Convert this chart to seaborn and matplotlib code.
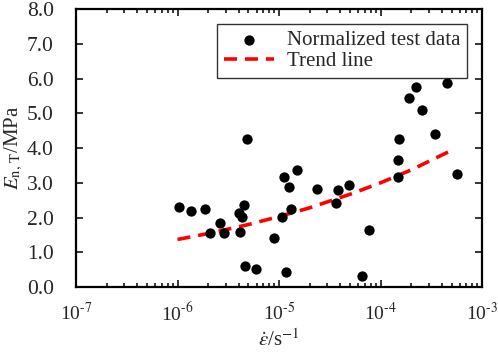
import numpy as np
import pandas as pd
import seaborn as sns
import matplotlib
matplotlib.use('Agg')
import matplotlib.pyplot as plt
from matplotlib.ticker import LogLocator, FuncFormatter, MultipleLocator, FormatStrFormatter

# test data
strain_rate = [1.03e-6, 1.37e-6, 1.85e-6, 2.08e-6, 2.6e-6, 2.86e-6, 4.0e-6, 4.3e-6,
               4.5e-6, 4.1e-6, 4.6e-6, 5.9e-6, 9.0e-6, 1.07e-5, 1.11e-5, 1.18e-5,
               1.26e-5, 1.3e-5, 1.51e-5, 2.38e-5, 3.6e-5, 3.8e-5, 4.9e-5, 6.6e-5,
               7.7e-5, 1.48e-4, 5.6e-4, 4.86e-6, 1.51e-4, 1.49e-4, 1.9e-4, 2.22e-4,
               2.58e-4, 3.44e-4, 4.55e-4]
modulus = [2.31, 2.18, 2.26, 1.56, 1.83, 1.55, 2.12, 2.02,
           2.36, 1.59, 0.61, 0.52, 1.41, 2.02, 3.16, 0.44,
           2.89, 2.26, 3.38, 2.82, 2.43, 2.79, 2.94, 0.32,
           1.64, 3.17, 3.25, 4.25, 4.25, 3.65, 5.43, 5.75,
           5.09, 4.40, 5.88]

trend_x = [1e-6, 2e-6, 5e-6, 1e-5, 2e-5, 5e-5, 1e-4, 2e-4, 4.9e-4]
trend_y = [1.37, 1.54, 1.80, 2.03, 2.28, 2.67, 3.00, 3.37, 3.92]

pts = pd.DataFrame({'rate': strain_rate, 'E': modulus})
trend = pd.DataFrame({'rate': trend_x, 'E': trend_y})

sns.set_style('ticks')
plt.rcParams['font.family'] = ['Liberation Serif', 'DejaVu Serif']
plt.rcParams['mathtext.fontset'] = 'stix'

fig = plt.figure(figsize=(4.98, 3.54), dpi=100)
ax = fig.add_axes([0.1526, 0.189, 0.8154, 0.7856])

sns.scatterplot(data=pts, x='rate', y='E', color='black', s=55, edgecolor='black',
                linewidth=0, ax=ax, label='Normalized test data', zorder=3)
sns.lineplot(data=trend, x='rate', y='E', color='red', linestyle=(0, (3.6, 2.2)),
             linewidth=2.6, ax=ax, label='Trend line', zorder=2)

ax.set_xscale('log')
ax.set_xlim(1e-7, 1e-3)
ax.set_ylim(0, 8)
ax.xaxis.set_major_locator(LogLocator(base=10, numticks=10))
ax.xaxis.set_minor_locator(LogLocator(base=10, subs=np.arange(2, 10), numticks=10))
ax.xaxis.set_major_formatter(FuncFormatter(
    lambda v, p: r'10$^{\text{-%d}}$' % round(-np.log10(v))))
ax.yaxis.set_major_locator(MultipleLocator(1))
ax.yaxis.set_major_formatter(FormatStrFormatter('%.1f'))

ax.tick_params(which='both', direction='in', top=True, right=True, width=1.3)
ax.tick_params(which='major', length=5)
ax.tick_params(which='minor', length=3)
ax.tick_params(axis='x', which='major', pad=11, labelsize=14)
ax.tick_params(axis='y', which='major', pad=16, labelsize=15.5)
for sp in ax.spines.values():
    sp.set_linewidth(1.6)
    sp.set_color('black')

ax.set_xlabel(r'$\dot{\varepsilon}$/s$^{-1}$', fontsize=15, labelpad=3)
ax.set_ylabel(r'$E_{\rm n,\,T}$/MPa', fontsize=15, labelpad=1)

leg = ax.legend(loc='upper right', fontsize=15, frameon=True, fancybox=False,
                edgecolor='black', borderaxespad=0.7, handlelength=2.4,
                borderpad=0.35, labelspacing=0.05, handletextpad=0.6)
leg.get_frame().set_linewidth(1.0)

fig.savefig('out.png', dpi=100)
